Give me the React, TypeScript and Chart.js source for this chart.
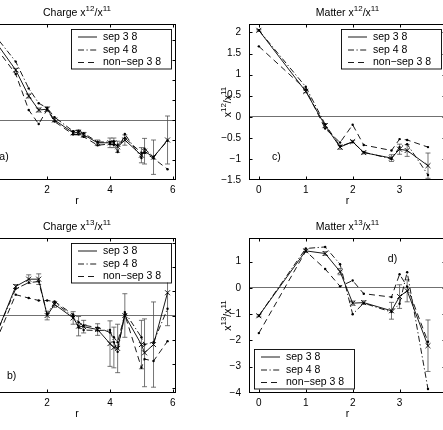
import { useEffect, useRef } from 'react';
import { Chart, registerables } from 'chart.js';

Chart.register(...registerables);

// Lattice separations r (sqrt of integer squared distances)
const R_CHARGE = [0, 1, 1.414, 1.732, 2, 2.236, 2.828, 3, 3.162, 3.606, 4, 4.123, 4.243, 4.472, 5, 5.099, 5.385, 5.831];
const R_MATTER = [0, 1, 1.414, 1.732, 2, 2.236, 2.828, 3, 3.162, 3.606];

const LEGEND_LABELS = ['sep 3 8', 'sep 4 8', 'non\u2212sep 3 8'];

// Charge x^12/x^11
const A_SEP38 = [2.35, 1.25, 0.6, 0.25, 0.27, 0.0, -0.32, -0.31, -0.37, -0.57, -0.57, -0.57, -0.67, -0.5, -0.88, -0.78, -0.93, -0.5];
const A_SEP38_ERR = [0.03, 0.04, 0.05, 0.05, 0.06, 0.04, 0.05, 0.06, 0.06, 0.07, 0.12, 0.12, 0.14, 0.13, 0.19, 0.32, 0.43, 0.6];
const A_SEP48 = [2.45, 1.46, 0.79, 0.42, 0.3, 0.07, -0.28, -0.27, -0.33, -0.55, -0.55, -0.53, -0.8, -0.35, -0.95, -0.72, -0.92, -0.52];
const A_NONSEP = [2.2, 1.15, 0.25, -0.1, 0.26, -0.04, -0.36, -0.36, -0.42, -0.63, -0.6, -0.62, -0.62, -0.45, -0.82, -0.82, -0.96, -1.23];

// Charge x^13/x^11
const B_SEP38 = [-1.0, 0.6, 0.75, 0.75, 0.0, 0.23, -0.05, -0.22, -0.23, -0.29, -0.58, -0.66, -0.68, 0.0, -0.6, -0.77, -0.6, 0.47];
const B_SEP38_ERR = [0.04, 0.04, 0.09, 0.11, 0.09, 0.06, 0.13, 0.2, 0.13, 0.12, 0.47, 0.42, 0.5, 0.45, 0.5, 0.7, 0.88, 0.68];
const B_SEP48 = [-0.95, 0.55, 0.68, 0.7, 0.03, 0.27, -0.02, -0.25, -0.3, -0.31, -0.3, -0.55, -0.75, 0.07, -0.45, -0.6, -0.55, 0.14];
const B_NONSEP = [-1.1, 0.43, 0.36, 0.31, 0.31, 0.29, 0.02, -0.14, -0.2, -0.25, -0.35, -0.45, -0.55, 0.02, -1.08, -0.9, -0.94, -0.53];

// Matter x^12/x^11
const C_SEP38 = [2.05, 0.6, -0.21, -0.72, -0.59, -0.85, -0.98, -0.77, -0.8, -1.16];
const C_SEP38_ERR = [0.02, 0.03, 0.05, 0.05, 0.03, 0.03, 0.08, 0.12, 0.14, 0.3];
const C_SEP48 = [2.05, 0.71, -0.18, -0.7, -0.6, -0.84, -1.0, -0.72, -0.65, -1.38];
const C_NONSEP = [1.67, 0.65, -0.28, -0.61, -0.19, -0.67, -0.8, -0.53, -0.55, -0.72];

// Matter x^13/x^11
const D_SEP38 = [-1.06, 1.41, 1.31, 0.62, -0.58, -0.56, -0.87, -0.33, -0.11, -2.2];
const D_SEP38_ERR = [0.04, 0.05, 0.07, 0.12, 0.08, 0.07, 0.32, 0.45, 0.42, 0.98];
const D_SEP48 = [-1.06, 1.5, 1.56, 0.9, -1.0, -0.58, -0.92, -0.6, 0.6, -3.85];
const D_NONSEP = [-1.72, 1.4, 0.72, 0.06, 0.28, -0.22, -0.35, 0.52, 0.05, -2.05];

const FAMILY = '"Liberation Sans", Arial, Helvetica, sans-serif';
const MAIN_FONT = `10.5px ${FAMILY}`;
const SUP_FONT = `8px ${FAMILY}`;
const SUP_RISE = 4.5;
const PAD_L = 45;
const PAD_R = 8;
const PAD_B = 30;
const DASHED = [6, 4];
const DASH_DOT = [6, 2.5, 1.2, 2.5];

type Corner = 'ne' | 'sw';

interface PanelSpec {
  id: string;
  title: string[];
  yLabel: string[] | null;
  r: number[];
  sep38: number[];
  sep38Err: number[];
  sep48: number[];
  nonSep: number[];
  x: [number, number, number];
  y: [number, number, number];
  box: { left: number; top: number; width: number; height: number };
  padTop: number;
  legend: Corner;
  tag: { text: string; x: number; y: number };
}

const PANELS: PanelSpec[] = [
  {
    id: 'a', title: ['Charge x', '12', '/x', '11'], yLabel: null, r: R_CHARGE,
    sep38: A_SEP38, sep38Err: A_SEP38_ERR, sep48: A_SEP48, nonSep: A_NONSEP,
    x: [-0.2, 6.1, 2], y: [-1.5, 2.4, 0.5],
    box: { left: -22, top: 24, width: 198, height: 156 }, padTop: 24,
    legend: 'ne', tag: { text: 'a)', x: 0.48, y: -0.92 },
  },
  {
    id: 'c', title: ['Matter x', '12', '/x', '11'], yLabel: ['x', '12', '/x', '11'], r: R_MATTER,
    sep38: C_SEP38, sep38Err: C_SEP38_ERR, sep48: C_SEP48, nonSep: C_NONSEP,
    x: [-0.21, 3.99, 1], y: [-1.5, 2.2, 0.5],
    box: { left: 249, top: 24, width: 197, height: 156 }, padTop: 24,
    legend: 'ne', tag: { text: 'c)', x: 0.28, y: -0.95 },
  },
  {
    id: 'b', title: ['Charge x', '13', '/x', '11'], yLabel: null, r: R_CHARGE,
    sep38: B_SEP38, sep38Err: B_SEP38_ERR, sep48: B_SEP48, nonSep: B_NONSEP,
    x: [-0.2, 6.1, 2], y: [-1.6, 1.6, 0.5],
    box: { left: -22, top: 238, width: 198, height: 155 }, padTop: 26,
    legend: 'ne', tag: { text: 'b)', x: 0.72, y: -1.25 },
  },
  {
    id: 'd', title: ['Matter x', '13', '/x', '11'], yLabel: ['x', '13', '/x', '11'], r: R_MATTER,
    sep38: D_SEP38, sep38Err: D_SEP38_ERR, sep48: D_SEP48, nonSep: D_NONSEP,
    x: [-0.21, 3.99, 1], y: [-4, 1.9, 1],
    box: { left: 249, top: 238, width: 197, height: 155 }, padTop: 26,
    legend: 'sw', tag: { text: 'd)', x: 2.75, y: 1.1 },
  },
];

function fmtTick(v: number | string): string {
  const n = Math.round(Number(v) * 10) / 10;
  if (n === 0) return '0';
  return (n < 0 ? '\u2212' : '') + String(Math.abs(n));
}

// Text with alternating normal / superscript segments
function drawRich(ctx: CanvasRenderingContext2D, segs: string[], x: number, y: number) {
  const widths = segs.map((s, i) => {
    ctx.font = i % 2 ? SUP_FONT : MAIN_FONT;
    return ctx.measureText(s).width;
  });
  const total = widths.reduce((p, w) => p + w, 0);
  let cx = x - total / 2;
  ctx.textAlign = 'left';
  ctx.textBaseline = 'alphabetic';
  segs.forEach((s, i) => {
    ctx.font = i % 2 ? SUP_FONT : MAIN_FONT;
    ctx.fillText(s, cx, i % 2 ? y - SUP_RISE : y);
    cx += widths[i];
  });
}

function makeDecor(spec: PanelSpec) {
  return {
    id: 'panelDecor' + spec.id,
    beforeDatasetsDraw(chart: Chart) {
      const { ctx, chartArea: a } = chart;
      const xs = chart.scales.x;
      const ys = chart.scales.y;
      ctx.save();
      ctx.beginPath();
      ctx.rect(a.left, a.top, a.right - a.left, a.bottom - a.top);
      ctx.clip();
      ctx.strokeStyle = '#505050';
      ctx.lineWidth = 0.8;
      spec.sep38Err.forEach((e, i) => {
        const px = xs.getPixelForValue(spec.r[i]);
        const y1 = ys.getPixelForValue(spec.sep38[i] - e);
        const y2 = ys.getPixelForValue(spec.sep38[i] + e);
        ctx.beginPath();
        ctx.moveTo(px, y1);
        ctx.lineTo(px, y2);
        ctx.moveTo(px - 2.5, y1);
        ctx.lineTo(px + 2.5, y1);
        ctx.moveTo(px - 2.5, y2);
        ctx.lineTo(px + 2.5, y2);
        ctx.stroke();
      });
      ctx.restore();
    },
    afterDraw(chart: Chart) {
      const { ctx, chartArea: a } = chart;
      const xs = chart.scales.x;
      const ys = chart.scales.y;
      ctx.save();

      // axes box
      ctx.strokeStyle = '#000';
      ctx.lineWidth = 1;
      ctx.strokeRect(a.left + 0.5, a.top + 0.5, a.right - a.left - 1, a.bottom - a.top - 1);

      // inward tick marks on all four sides
      const TL = 3.5;
      ctx.beginPath();
      xs.ticks.forEach((t) => {
        const px = Math.round(xs.getPixelForValue(t.value)) + 0.5;
        if (px <= a.left + 1 || px >= a.right - 1) return;
        ctx.moveTo(px, a.bottom);
        ctx.lineTo(px, a.bottom - TL);
        ctx.moveTo(px, a.top);
        ctx.lineTo(px, a.top + TL);
      });
      ys.ticks.forEach((t) => {
        const py = Math.round(ys.getPixelForValue(t.value)) + 0.5;
        if (py <= a.top + 1 || py >= a.bottom - 1) return;
        ctx.moveTo(a.left, py);
        ctx.lineTo(a.left + TL, py);
        ctx.moveTo(a.right, py);
        ctx.lineTo(a.right - TL, py);
      });
      ctx.stroke();

      // panel tag
      ctx.fillStyle = '#000';
      ctx.font = MAIN_FONT;
      ctx.textAlign = 'left';
      ctx.textBaseline = 'middle';
      ctx.fillText(spec.tag.text, xs.getPixelForValue(spec.tag.x), ys.getPixelForValue(spec.tag.y));

      // legend
      const LW = 100;
      const LH = 39.5;
      let bx: number;
      let by: number;
      if (spec.legend === 'ne') {
        bx = Math.round(a.right - 5 - LW);
        by = Math.round(a.top + 5);
      } else {
        bx = Math.round(a.left + 5);
        by = Math.round(a.bottom - 5 - LH);
      }
      ctx.fillStyle = '#fff';
      ctx.fillRect(bx, by, LW, LH);
      ctx.strokeStyle = '#000';
      ctx.lineWidth = 0.9;
      ctx.strokeRect(bx + 0.5, by + 0.5, LW, LH);
      const rows = [8, 21, 33.5];
      const dashes = [[], DASH_DOT, DASHED];
      rows.forEach((dy, i) => {
        const yy = by + dy;
        ctx.setLineDash(dashes[i]);
        ctx.lineWidth = 0.9;
        ctx.beginPath();
        ctx.moveTo(bx + 7, yy);
        ctx.lineTo(bx + 26, yy);
        ctx.stroke();
        ctx.setLineDash([]);
        ctx.fillStyle = '#000';
        ctx.font = MAIN_FONT;
        ctx.textAlign = 'left';
        ctx.textBaseline = 'middle';
        ctx.fillText(LEGEND_LABELS[i], bx + 32, yy);
      });

      // title, axis labels
      ctx.fillStyle = '#000';
      const cx = (a.left + a.right) / 2;
      drawRich(ctx, spec.title, cx, a.top - 8.5);
      ctx.font = MAIN_FONT;
      ctx.textAlign = 'center';
      ctx.textBaseline = 'alphabetic';
      ctx.fillText('r', cx, a.bottom + 23.5);
      if (spec.yLabel) {
        ctx.save();
        ctx.translate(a.left - 18.5, (a.top + a.bottom) / 2);
        ctx.rotate(-Math.PI / 2);
        drawRich(ctx, spec.yLabel, 0, 0);
        ctx.restore();
      }
      ctx.restore();
    },
  };
}

function Panel({ spec }: { spec: PanelSpec }) {
  const ref = useRef<HTMLCanvasElement>(null);
  const b = spec.box;
  const cl = Math.floor(b.left) - PAD_L;
  const fracL = b.left - Math.floor(b.left);
  const w = PAD_L + fracL + b.width + PAD_R;
  const cw = Math.ceil(w);
  const ch = spec.padTop + b.height + PAD_B;

  useEffect(() => {
    const canvas = ref.current;
    if (!canvas) return;
    const pts = (vals: number[]) => vals.map((v, i) => ({ x: spec.r[i], y: v }));
    const line = { borderColor: '#000', borderWidth: 0.9, tension: 0, fill: false };
    const chart = new Chart(canvas, {
      type: 'line',
      data: {
        datasets: [
          {
            ...line, label: LEGEND_LABELS[0], data: pts(spec.sep38),
            pointStyle: 'crossRot', pointRadius: 3.5, pointBorderWidth: 0.9,
            pointBorderColor: '#000', pointBackgroundColor: '#000',
          },
          {
            ...line, label: LEGEND_LABELS[1], data: pts(spec.sep48), borderDash: DASH_DOT,
            pointStyle: 'circle', pointRadius: 1.2, pointBorderWidth: 0,
            pointBackgroundColor: '#000', pointBorderColor: '#000',
          },
          {
            ...line, label: LEGEND_LABELS[2], data: pts(spec.nonSep), borderDash: DASHED,
            pointStyle: 'circle', pointRadius: 1.2, pointBorderWidth: 0,
            pointBackgroundColor: '#000', pointBorderColor: '#000',
          },
        ],
      },
      options: {
        responsive: false,
        animation: false,
        events: [],
        layout: { padding: { left: fracL, top: spec.padTop, right: cw - w + PAD_R, bottom: 0 } },
        plugins: { legend: { display: false }, tooltip: { enabled: false }, title: { display: false } },
        scales: {
          x: {
            type: 'linear',
            min: spec.x[0],
            max: spec.x[1],
            grid: { display: false, drawTicks: false },
            border: { display: false },
            ticks: {
              stepSize: spec.x[2], includeBounds: false, autoSkip: false, maxRotation: 0,
              padding: 4, color: '#000', font: { family: FAMILY, size: 10 },
              callback: (v) => fmtTick(v),
            },
            afterFit: (s) => { s.height = PAD_B; },
          },
          y: {
            type: 'linear',
            min: spec.y[0],
            max: spec.y[1],
            grid: {
              display: true,
              drawTicks: false,
              lineWidth: 1,
              color: (c) => (c.tick && Math.abs(c.tick.value) < 1e-9 ? '#707070' : 'rgba(0,0,0,0)'),
            },
            border: { display: false },
            ticks: {
              stepSize: spec.y[2], includeBounds: false, autoSkip: false,
              padding: 8, color: '#000', font: { family: FAMILY, size: 10 },
              callback: (v) => fmtTick(v),
            },
            afterFit: (s) => { s.width = PAD_L; },
          },
        },
      },
      plugins: [makeDecor(spec)],
    });
    return () => chart.destroy();
  }, [spec, fracL, w, cw]);

  return (
    <canvas
      ref={ref}
      width={cw}
      height={ch}
      style={{ position: 'absolute', left: cl, top: b.top - spec.padTop, width: cw, height: ch }}
    />
  );
}

export default function App() {
  return (
    <div
      style={{
        position: 'fixed', left: 0, top: 0, width: 443, height: 430,
        overflow: 'hidden', background: '#fff',
      }}
    >
      {PANELS.map((p) => (
        <Panel key={p.id} spec={p} />
      ))}
    </div>
  );
}
